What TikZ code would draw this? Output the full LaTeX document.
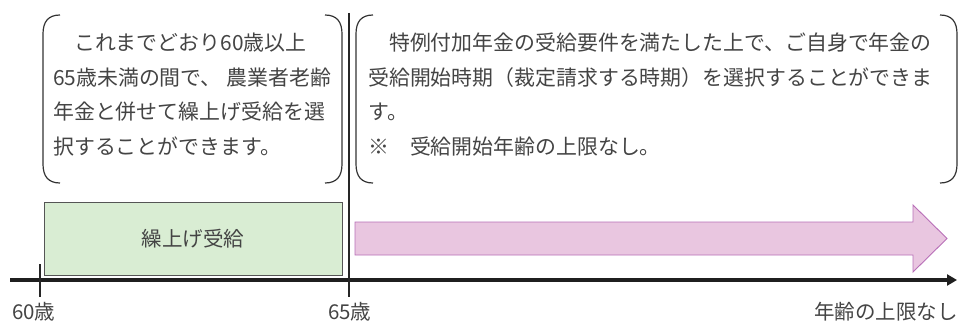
\documentclass[tikz,border=0pt]{standalone}
\usepackage{fontspec}
\setmainfont{Noto Sans CJK JP}
\usetikzlibrary{arrows.meta}
\definecolor{txt}{HTML}{444444}
\definecolor{brkc}{HTML}{333333}
\definecolor{greenfill}{HTML}{D9EDD3}
\definecolor{greenline}{HTML}{555555}
\definecolor{pinkfill}{HTML}{E9C6E0}
\definecolor{pinkline}{HTML}{B86FB8}
\tikzset{
  line/.style={anchor=base west, inner sep=0pt, text=txt, font=\fontsize{20.9}{34.7}\selectfont},
  brk/.style={draw=brkc, line width=1.2pt},
  lbl/.style={inner sep=0pt, text=txt, font=\fontsize{20.5}{24}\selectfont},
  bar/.style={draw=black!85, line width=1.8pt},
}
\begin{document}
\begin{tikzpicture}[x=1pt,y=-1pt]
\useasboundingbox (0,0) rectangle (958,323);
% brackets of left box
\draw[brk] (60,15) .. controls (48,15) and (43,22) .. (43,34) -- (43,164) .. controls (43,176) and (48,183) .. (60,183);
\draw[brk] (325,15) .. controls (337,15) and (342,22) .. (342,34) -- (342,164) .. controls (342,176) and (337,183) .. (325,183);
% brackets of right box
\draw[brk] (373,15) .. controls (361,15) and (356,22) .. (356,34) -- (356,164) .. controls (356,176) and (361,183) .. (373,183);
\draw[brk] (940,15) .. controls (952,15) and (957,22) .. (957,34) -- (957,164) .. controls (957,176) and (952,183) .. (940,183);
% left text
\node[line] (l1) at (53,51) {　これまでどおり60歳以上};
\node[line] (l2) at (53,85.5) {65歳未満の間で、 農業者老齢};
\node[line] (l3) at (53,120) {年金と併せて繰上げ受給を選};
\node[line] (l4) at (53,155) {択することができます。};
% right text
\node[line] (r1) at (368,51) {　特例付加年金の受給要件を満たした上で、ご自身で年金の};
\node[line] (r2) at (368,85.5) {受給開始時期（裁定請求する時期）を選択することができま};
\node[line] (r3) at (368,120) {す。};
\node[line] (r4) at (368,155) {※　受給開始年齢の上限なし。};
% green box
\node[draw=greenline, line width=0.9pt, fill=greenfill, minimum width=298pt, minimum height=73pt, inner sep=0pt,
      text=txt, font=\fontsize{20.5}{24}\selectfont] (early) at (193,238.5) {繰上げ受給};
% pink arrow
\path[fill=pinkfill, draw=pinkline, line width=0.9pt]
  (355,222) -- (913,222) -- (913,205) -- (947,238.5) -- (913,272) -- (913,255) -- (355,255) -- cycle;
% axis
\coordinate (axs) at (10,280);
\coordinate (axe) at (957,280);
\draw[draw=black!88, line width=4pt, -{Triangle[length=10pt,width=11pt]}] (axs) -- (axe);
% ticks
\coordinate (t60a) at (40,264); \coordinate (t60b) at (40,297);
\coordinate (t65a) at (349,13); \coordinate (t65b) at (349,297);
\draw[bar] (t60a) -- (t60b);
\draw[bar] (t65a) -- (t65b);
% labels
\node[lbl, anchor=base west] (a60) at (12,319) {60歳};
\node[lbl, anchor=base west] (a65) at (328,319) {65歳};
\node[lbl, anchor=base east] (amax) at (958,319) {年齢の上限なし};
\end{tikzpicture}
\end{document}
